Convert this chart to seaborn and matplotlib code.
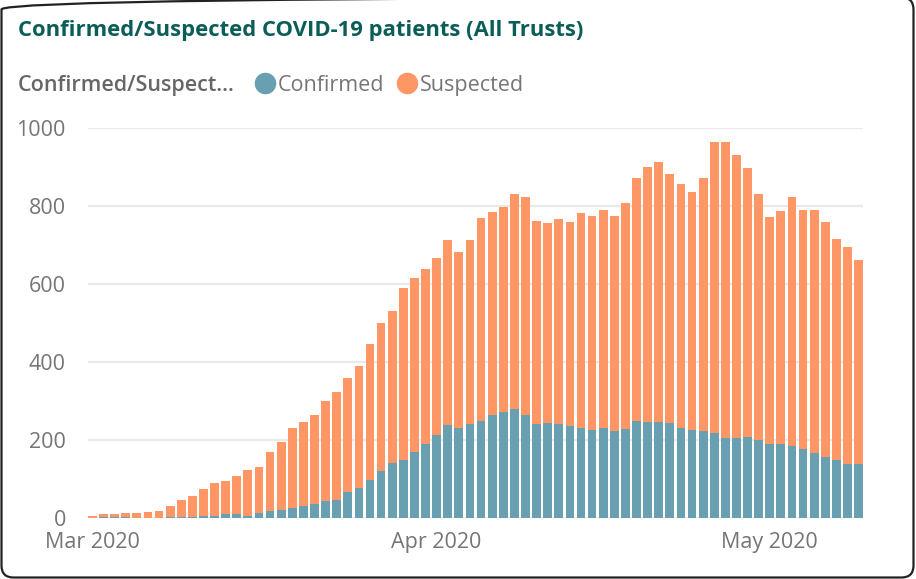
import numpy as np
import pandas as pd
import seaborn as sns
import matplotlib.pyplot as plt
from matplotlib.lines import Line2D
from matplotlib.patches import FancyBboxPatch

# daily values, 1 Mar 2020 .. 9 May 2020
dates = pd.date_range("2020-03-01", "2020-05-09", freq="D")
total = [5, 10, 10, 13, 13, 15, 18, 31, 46, 56,
         74, 90, 95, 108, 122, 130, 168, 194, 232, 245,
         263, 299, 322, 358, 391, 445, 499, 532, 591, 615,
         638, 666, 712, 681, 712, 768, 784, 797, 830, 822,
         761, 756, 766, 758, 781, 774, 791, 774, 807, 871,
         899, 912, 881, 856, 835, 871, 963, 963, 930, 897,
         832, 771, 786, 822, 789, 789, 758, 715, 694, 661]
confirmed = [0, 3, 3, 3, 1, 0, 0, 3, 3, 3,
             6, 6, 9, 9, 6, 12, 17, 20, 25, 30,
             35, 43, 45, 66, 76, 97, 120, 140, 150, 168,
             189, 212, 238, 230, 240, 248, 263, 271, 279, 263,
             240, 243, 240, 235, 230, 225, 230, 222, 227, 248,
             245, 245, 243, 232, 225, 222, 217, 204, 204, 207,
             199, 191, 189, 184, 176, 166, 156, 148, 138, 138]
suspected = [t - c for t, c in zip(total, confirmed)]

tick_labels = ["Mar 2020", "Apr 2020", "May 2020"]
y_ticks = [0, 200, 400, 600, 800, 1000]

c_conf = "#68A0B2"
c_susp = "#FE9666"
grey = "#757575"

df = pd.DataFrame({"day": dates.strftime("%Y-%m-%d"), "total": total,
                   "confirmed": confirmed, "suspected": suspected})

sns.set_theme(style="white")
plt.rcParams["font.family"] = ["Open Sans", "DejaVu Sans"]

fig = plt.figure(figsize=(9.16, 5.79), dpi=100)
ax = fig.add_axes([88 / 916, 1 - 518 / 579, 775 / 916, 390 / 579])

w = 0.79
# stacked bars: full height in orange, confirmed part drawn on top in teal
sns.barplot(data=df, x="day", y="total", color=c_susp, width=w,
            saturation=1, ax=ax, zorder=3)
sns.barplot(data=df, x="day", y="confirmed", color=c_conf, width=w,
            saturation=1, ax=ax, zorder=3)
for p in ax.patches:
    p.set_linewidth(0)

ax.set_xlim(-w / 2, len(df) - 1 + w / 2)
ax.set_ylim(0, 1000)
ax.set_yticks(y_ticks)
ax.set_yticklabels([str(v) for v in y_ticks])
tick_pos = [list(df["day"]).index(d) for d in ["2020-03-01", "2020-04-01", "2020-05-01"]]
ax.set_xticks(tick_pos)
ax.set_xticklabels(tick_labels)
ax.tick_params(axis="both", length=0, labelsize=15.5, colors=grey)
ax.tick_params(axis="y", pad=16)
ax.tick_params(axis="x", pad=10)
ax.set_xlabel("")
ax.set_ylabel("")
ax.yaxis.grid(True, color="#E9E9E9", linewidth=1.6, zorder=0)
ax.set_axisbelow(True)
for s in ax.spines.values():
    s.set_visible(False)

fig.text(18 / 916, 1 - 28 / 579, "Confirmed/Suspected COVID-19 patients (All Trusts)",
         fontsize=15.8, fontweight="bold", color="#0B5D57", va="center_baseline", ha="left")

# legend drawn by hand so the pieces sit where the reference has them
ly = 1 - 83 / 579
fig.text(18 / 916, ly, "Confirmed/Suspect...", fontsize=15.5,
         fontweight="semibold", color="#666666", va="center_baseline", ha="left")
for xc, xt, col, lab in [(265, 278, c_conf, "Confirmed"), (407, 420, c_susp, "Suspected")]:
    fig.add_artist(Line2D([xc / 916], [ly], transform=fig.transFigure, marker="o",
                          ls="", markersize=14.5, color=col))
    fig.text(xt / 916, ly, lab, fontsize=15.5, color=grey, va="center_baseline", ha="left")

border = FancyBboxPatch((1.5, 1.5), 912, 580, boxstyle="round,pad=0,rounding_size=12",
                        transform=None, fill=False, edgecolor="#222222", linewidth=1.6)
fig.patches.append(border)

fig.savefig("out.png", dpi=100)
